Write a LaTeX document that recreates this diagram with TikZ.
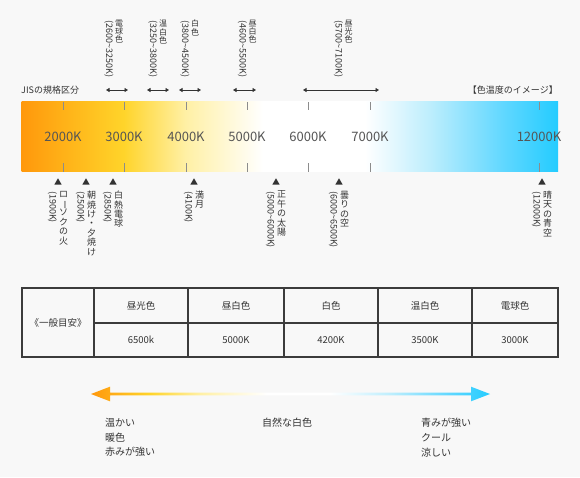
\documentclass[tikz,border=0pt]{standalone}
\usepackage{graphicx}
\usepackage{fontspec}
\setmainfont{Noto Sans CJK JP}
\usetikzlibrary{positioning,arrows.meta,calc,shapes.geometric}
\definecolor{pageBg}{RGB}{248,248,248}
\definecolor{inkDark}{RGB}{51,51,51}
\definecolor{inkGray}{RGB}{85,85,85}
\definecolor{tickGray}{RGB}{140,140,140}
\definecolor{gridLine}{RGB}{60,60,60}
\definecolor{warmOrange}{RGB}{255,152,12}
\definecolor{warmAmber}{RGB}{255,178,24}
\definecolor{warmYellow}{RGB}{255,212,42}
\definecolor{paleYellow}{RGB}{255,240,165}
\definecolor{paleCyan}{RGB}{190,238,253}
\definecolor{midCyan}{RGB}{95,215,255}
\definecolor{coolCyan}{RGB}{36,204,255}
\pgfdeclarehorizontalshading{barShade}{100bp}{color(0bp)=(warmOrange); color(25bp)=(warmOrange);
  color(29bp)=(warmAmber); color(34.5bp)=(warmYellow); color(40.3bp)=(paleYellow);
  color(47.5bp)=(white); color(57bp)=(white); color(63bp)=(paleCyan); color(70bp)=(midCyan);
  color(75bp)=(coolCyan); color(100bp)=(coolCyan)}
\pgfdeclarehorizontalshading{tempArrow}{100bp}{color(0bp)=(warmOrange); color(25bp)=(warmOrange);
  color(32.4bp)=(warmYellow); color(38.7bp)=(paleYellow); color(47bp)=(white); color(55bp)=(white);
  color(62.5bp)=(paleCyan); color(70bp)=(midCyan); color(75bp)=(coolCyan); color(100bp)=(coolCyan)}
\newcommand\tate[1]{\expandafter\tateStep#1\relax}
\def\tateStep#1#2\relax{#1\ifx\relax#2\relax\else\\\tateStep#2\relax\fi}
\newcommand\chouon{\rotatebox[origin=c]{-90}{ー}}
\tikzset{
  jisHead/.style={font=\fontsize{9}{11}\selectfont, text=inkDark, inner sep=0pt},
  colorBar/.style={shade, shading=barShade, minimum width=536.5pt, minimum height=70pt, inner sep=0pt},
  barTick/.style={draw=tickGray, line width=1pt},
  barLabel/.style={font=\fontsize{13}{15}\selectfont, text=inkGray},
  rangeArrow/.style={{Triangle[length=3.5pt,width=4pt]}-{Triangle[length=3.5pt,width=4pt]},
                     draw=inkDark, line width=0.8pt},
  tateTop/.style={font=\fontsize{8}{8.2}\selectfont, text=inkDark, align=center, inner sep=0pt},
  tateLow/.style={font=\fontsize{9}{9.4}\selectfont, text=inkDark, align=center, inner sep=0pt},
  kelvin/.style={font=\fontsize{9}{10}\selectfont, text=inkDark, inner sep=0pt},
  marker/.style={regular polygon, regular polygon sides=3, fill=inkDark, minimum size=8.5pt, inner sep=0pt},
  cellBox/.style={draw=gridLine, line width=1.2pt, inner sep=0pt, font=\fontsize{9.5}{11}\selectfont,
                  text=inkDark},
  noteText/.style={font=\fontsize{10}{14.7}\selectfont, text=inkDark, align=left, inner sep=0pt,
                   anchor=north west},
}
\begin{document}
\begin{tikzpicture}[x=1pt,y=-1pt]
  \fill[pageBg] (0,0) rectangle (580,477);

  \node[jisHead, anchor=west] (jisTitle) at (21,90) {JISの規格区分};
  \node[jisHead, anchor=east] (imgTitle) at (558,90) {【色温度のイメージ】};

  \node[colorBar] (bar) at (289.75,136.75) {};
  \foreach \tx/\tk in {63/2000,124/3000,186/4000,247/5000,308/6000,370/7000,539/12000}{
    \draw[barTick] (\tx,101.75) -- ++(0,8.5) (\tx,163.25) -- ++(0,8.5);
    \node[barLabel] (k\tk) at (\tx,137) {\tk K};
  }

  \foreach \n/\ra/\rb/\cx/\ja/\rg in {1/106/128/114/電球色/2600\textasciitilde 3250K,
      2/147/169/158/温白色/3250\textasciitilde 3800K, 3/179/201/190/白色/3800\textasciitilde 4500K,
      4/233/256/247.5/昼白色/4600\textasciitilde 5500K, 5/303/379/343.5/昼光色/5700\textasciitilde 7100K}{
    \coordinate (jisL\n) at (\ra,90);
    \coordinate (jisR\n) at (\rb,90);
    \draw[rangeArrow] (jisL\n) -- (jisR\n);
    \node[tateTop, anchor=north] (jisName\n) at ({\cx+5},20) {\tate{\ja}};
    \node[kelvin, anchor=west, rotate=-90] (jisRange\n) at ({\cx-5},20) {(\rg)};
  }

  \foreach \n/\tx/\ja/\rg in {1/58/ロ{\chouon}ソクの火/1900K, 2/86/朝焼け・夕焼け/2500K,
      3/113/白熱電球/2850K, 4/194/満月/4100K, 5/276/正午の太陽/5000\textasciitilde 6000K,
      6/339/曇りの空/6000\textasciitilde 6500K, 7/542/晴天の青空/12000K}{
    \node[marker] (mk\n) at (\tx,182.5) {};
    \node[tateLow, below=6pt of mk\n, xshift=5.5pt] (lowName\n) {\tate{\ja}};
    \node[kelvin, below=6pt of mk\n, xshift=-5.5pt, anchor=west, rotate=-90] (lowRange\n) {(\rg)};
  }

  \node[cellBox, minimum width=72pt, minimum height=69pt] (guide) at (58,322.5) {《一般目安》};
  \foreach \n/\cl/\cr/\cname/\kval in {1/94/188/昼光色/6500k, 2/188/284/昼白色/5000K,
      3/284/378/白色/4200K, 4/378/472/温白色/3500K, 5/472/558/電球色/3000K}{
    \node[cellBox, minimum width=\cr-\cl, minimum height=35pt] (head\n) at ({(\cl+\cr)/2},305.5) {\cname};
    \node[cellBox, minimum width=\cr-\cl, minimum height=34pt] (kel\n) at ({(\cl+\cr)/2},340) {\kval};
  }

  \coordinate (warmTip) at (91,394);
  \coordinate (coolTip) at (490,394);
  \shade[shading=tempArrow] (warmTip) -- ($(warmTip)+(19,-7.3)$) -- ($(warmTip)+(19,-1.4)$)
    -- ($(coolTip)+(-19,-1.4)$) -- ($(coolTip)+(-19,-7.3)$) -- (coolTip)
    -- ($(coolTip)+(-19,7.3)$) -- ($(coolTip)+(-19,1.4)$) -- ($(warmTip)+(19,1.4)$)
    -- ($(warmTip)+(19,7.3)$) -- cycle;

  \node[noteText] (warmNote) at (105,418) {温かい\\暖色\\赤みが強い};
  \node[noteText] (midNote) at (262,418) {自然な白色};
  \node[noteText] (coolNote) at (421,418) {青みが強い\\クール\\涼しい};
\end{tikzpicture}
\end{document}
